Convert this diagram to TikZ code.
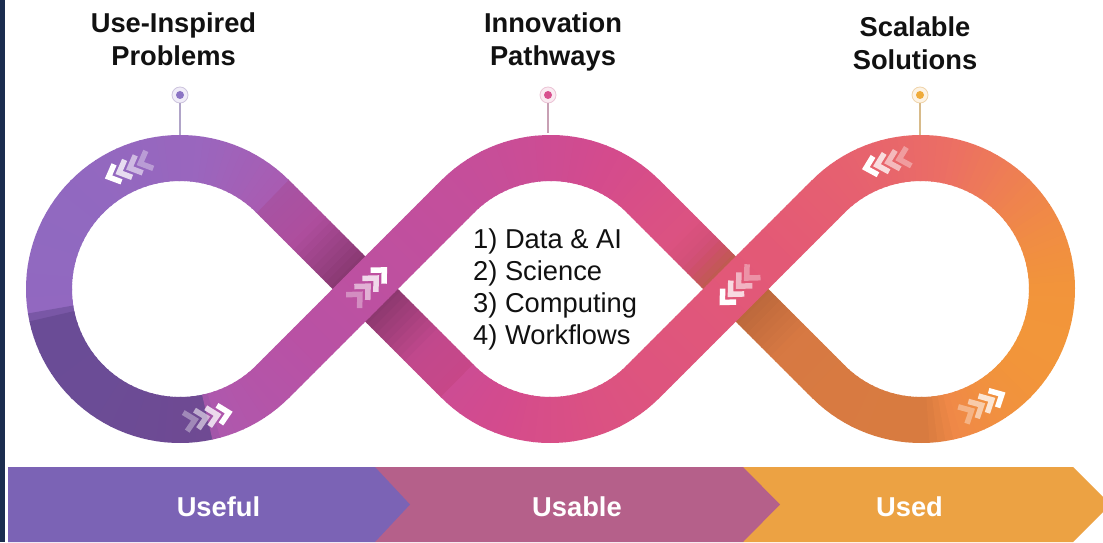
\documentclass[tikz,border=0pt]{standalone}
\usepackage{fontspec}
\setmainfont{Liberation Sans}
\usetikzlibrary{calc}

\definecolor{navyc}{HTML}{1B2D4F}
\definecolor{usefulc}{HTML}{7B63B5}
\definecolor{usablec}{HTML}{B5608A}
\definecolor{usedc}{HTML}{ECA243}
\definecolor{titlec}{HTML}{111111}
\definecolor{pinAring}{RGB}{205,196,222}
\definecolor{pinAfill}{RGB}{240,236,248}
\definecolor{pinAdot}{RGB}{139,116,196}
\definecolor{pinAline}{RGB}{176,164,200}
\definecolor{pinBring}{RGB}{236,196,214}
\definecolor{pinBfill}{RGB}{250,234,241}
\definecolor{pinBdot}{RGB}{216,80,142}
\definecolor{pinBline}{RGB}{200,160,180}
\definecolor{pinCring}{RGB}{240,212,170}
\definecolor{pinCfill}{RGB}{253,243,228}
\definecolor{pinCdot}{RGB}{239,171,58}
\definecolor{pinCline}{RGB}{216,187,138}

\pgfmathdeclarefunction{ribramp}{3}{\pgfmathparse{max(0,min(1,(#1-#2)/(#3-#2)))}}
\pgfmathdeclarefunction{ribtri}{3}{\pgfmathparse{max(0,1-abs(#1-#2)/#3)}}

% ribbon geometry: centre-line radius and band width
\def\ribRad{131}
\def\ribW{46}

% linear blend between two colour stops of the ribbon gradient
\newcommand\ribinterp[8]{%
  \pgfmathsetmacro\ribT{max(0,min(1,(\sval-(#1))/((#2)-(#1))))}%
  \pgfmathsetmacro\ribR{#3+(#6-#3)*\ribT}%
  \pgfmathsetmacro\ribG{#4+(#7-#4)*\ribT}%
  \pgfmathsetmacro\ribB{#5+(#8-#5)*\ribT}%
}
% colour of the ribbon at a point (x, y), with offset \ribS and darkening \ribD
\newcommand\setribcolor[2]{%
  \pgfmathsetmacro\sval{#1+0.4*(253-#2)+\ribS}%
  \ifdim\sval pt<150pt \ribinterp{-60}{150}{136}{108}{195}{155}{102}{190}%
  \else\ifdim\sval pt<330pt \ribinterp{150}{330}{155}{102}{190}{185}{82}{165}%
  \else\ifdim\sval pt<550pt \ribinterp{330}{550}{185}{82}{165}{212}{75}{142}%
  \else\ifdim\sval pt<760pt \ribinterp{550}{760}{212}{75}{142}{228}{90}{118}%
  \else\ifdim\sval pt<900pt \ribinterp{760}{900}{228}{90}{118}{236}{112}{100}%
  \else\ifdim\sval pt<1050pt \ribinterp{900}{1050}{236}{112}{100}{242}{148}{60}%
  \else \ribinterp{1050}{1150}{242}{148}{60}{246}{166}{45}%
  \fi\fi\fi\fi\fi\fi
  \pgfmathtruncatemacro\ribRf{\ribR*(1-\ribD)+\tgR*\ribD}%
  \pgfmathtruncatemacro\ribGf{\ribG*(1-\ribD)+\tgG*\ribD}%
  \pgfmathtruncatemacro\ribBf{\ribB*(1-\ribD)+\tgB*\ribD}%
  \definecolor{ribc}{RGB}{\ribRf,\ribGf,\ribBf}%
}
% straight piece of ribbon, cut into #5 slices
\newcommand\ribline[5]{%
  \foreach \i in {1,...,#5}{%
    \pgfmathsetmacro\ribta{(\i-1)/#5}%
    \pgfmathsetmacro\ribtb{(\i+0.2)/#5}%
    \pgfmathsetmacro\ribtm{(\i-0.5)/#5}%
    \shadefn{\ribtm}%
    \pgfmathsetmacro\ribxa{#1+(#3-#1)*\ribta}%
    \pgfmathsetmacro\ribya{#2+(#4-#2)*\ribta}%
    \pgfmathsetmacro\ribxb{#1+(#3-#1)*\ribtb}%
    \pgfmathsetmacro\ribyb{#2+(#4-#2)*\ribtb}%
    \pgfmathsetmacro\ribxm{#1+(#3-#1)*\ribtm}%
    \pgfmathsetmacro\ribym{#2+(#4-#2)*\ribtm}%
    \setribcolor{\ribxm}{\ribym}%
    \draw[line width=\ribW pt, draw=ribc] (\ribxa,\ribya) -- (\ribxb,\ribyb);
  }%
}
% circular piece of ribbon around (#1,#2) from angle #3 to #4, in #5 slices
\newcommand\ribarc[5]{%
  \pgfmathsetmacro\ribstep{(#4-#3)/#5}%
  \foreach \i in {1,...,#5}{%
    \pgfmathsetmacro\ribaa{#3+\ribstep*(\i-1)}%
    \pgfmathsetmacro\ribab{#3+\ribstep*(\i+0.2)}%
    \pgfmathsetmacro\ribam{#3+\ribstep*(\i-0.5)}%
    \shadefn{\ribam}%
    \pgfmathsetmacro\ribxa{#1+\ribRad*cos(\ribaa)}%
    \pgfmathsetmacro\ribya{#2+\ribRad*sin(\ribaa)}%
    \pgfmathsetmacro\ribxm{#1+\ribRad*cos(\ribam)}%
    \pgfmathsetmacro\ribym{#2+\ribRad*sin(\ribam)}%
    \setribcolor{\ribxm}{\ribym}%
    \draw[line width=\ribW pt, draw=ribc] (\ribxa,\ribya) arc[start angle=\ribaa, end angle=\ribab, radius=\ribRad];
  }%
}
% shading rules for the different parts of the band
\def\shadeflat#1{\def\ribD{0}\def\ribS{0}}
\def\shadeunderA#1{\pgfmathsetmacro\ribD{0.05+0.32*ribtri(#1,0.5,0.32)}\def\ribS{40}}
\def\shadeunderB#1{%
  \pgfmathsetmacro\ribS{250*ribramp(#1,0.3,0.45)-115*ribramp(#1,0.5,1)}%
  \pgfmathsetmacro\ribD{0.10*ribramp(#1,0.3,0.45)+0.16*ribtri(#1,0.5,0.3)}}
\def\shadeleft#1{\pgfmathsetmacro\ribD{0.8*ribramp(#1,188,192)*(1-ribramp(#1,281,284))}\def\ribS{0}}
\def\shaderight#1{%
  \pgfmathsetmacro\ribS{135*(1-ribramp(#1,225,285))}%
  \pgfmathsetmacro\ribD{0.10*(1-ribramp(#1,272,284))}}

% four chevrons pointing along the band
\newcommand\chevgroup[2]{%
  \begin{scope}[shift={#1}, rotate=#2]
    \foreach \k/\op in {0/0.35,1/0.55,2/0.78,3/1}{%
      \draw[chev, opacity=\op] ({\k*11.5-22.5},9.5) -- ({\k*11.5-12.5},0) -- ({\k*11.5-22.5},-9.5);
    }
  \end{scope}}

\tikzset{
  title/.style={font=\fontsize{27.3}{33}\selectfont\bfseries, text=titlec, inner sep=0pt},
  listtext/.style={font=\fontsize{27.3}{32}\selectfont, text=titlec, inner sep=0pt, anchor=base west},
  bartext/.style={font=\fontsize{27.3}{33}\selectfont\bfseries, text=white, inner sep=0pt, anchor=base},
  chev/.style={white, line width=5.5pt, line cap=butt, line join=miter},
  pinring/.style={circle, minimum size=16pt, inner sep=0pt, line width=0.8pt},
  pinline/.style={line width=1.2pt},
}

\begin{document}
\begin{tikzpicture}[x=1pt,y=1pt]
\useasboundingbox (0,0) rectangle (1103,542);
\fill[white] (0,0) rectangle (1103,542);
\fill[navyc] (0,0) rectangle (5,542);

% loop centres and crossing points
\coordinate (cL) at (180,253);
\coordinate (cM) at (550.5,253);
\coordinate (cR) at (921,253);
\coordinate (xA) at (365.25,253);
\coordinate (xB) at (735.75,253);

% band: lower strands first, then the rest
\def\tgR{0}\def\tgG{0}\def\tgB{0}
\let\shadefn\shadeunderA
\ribline{457.87}{160.37}{272.63}{345.63}{40}
\let\shadefn\shadeunderB
\ribline{643.13}{345.63}{828.37}{160.37}{40}
\def\tgR{96}\def\tgG{70}\def\tgB{140}
\let\shadefn\shadeleft
\ribarc{180}{253}{45}{315}{90}
\def\tgR{0}\def\tgG{0}\def\tgB{0}
\let\shadefn\shadeflat
\ribline{272.63}{160.37}{457.87}{345.63}{30}
\ribarc{550.5}{253}{135}{45}{30}
\let\shadefn\shaderight
\ribarc{921}{253}{225}{495}{90}
\let\shadefn\shadeflat
\ribline{828.37}{345.63}{643.13}{160.37}{30}
\ribarc{550.5}{253}{315}{225}{30}

% chevrons
\chevgroup{($(cL)+(113:131)$)}{203}
\chevgroup{($(cL)+(282:131)$)}{12}
\chevgroup{($(xA)+(45:5)$)}{45}
\chevgroup{($(xB)+(45:3)$)}{225}
\chevgroup{($(cR)+(105:131)$)}{195}
\chevgroup{($(cR)+(298:131)$)}{28}

% pins above the three loops
\coordinate (pinAend) at (180,407);
\coordinate (pinBend) at (548,409);
\coordinate (pinCend) at (920,407);
\node[pinring, draw=pinAring, fill=pinAfill] (pinA) at (180,447) {};
\node[pinring, draw=pinBring, fill=pinBfill] (pinB) at (548,447) {};
\node[pinring, draw=pinCring, fill=pinCfill] (pinC) at (920,447) {};
\fill[pinAdot] (pinA) circle (4);
\fill[pinBdot] (pinB) circle (4);
\fill[pinCdot] (pinC) circle (4);
\draw[pinline, pinAline] (pinA.south) -- (pinAend);
\draw[pinline, pinBline] (pinB.south) -- (pinBend);
\draw[pinline, pinCline] (pinC.south) -- (pinCend);

% headings
\node[title, anchor=base] (hA1) at (173.5,509) {Use-Inspired};
\node[title, anchor=base] (hA2) at (173.5,476) {Problems};
\node[title, anchor=base] (hB1) at (553,509) {Innovation};
\node[title, anchor=base] (hB2) at (553,476) {Pathways};
\node[title, anchor=base] (hC1) at (915,505) {Scalable};
\node[title, anchor=base] (hC2) at (915,472) {Solutions};

% list in the middle loop
\node[listtext] (li1) at (473,294) {1) Data \& AI};
\node[listtext] (li2) at (473,262) {2) Science};
\node[listtext] (li3) at (473,230) {3) Computing};
\node[listtext] (li4) at (473,198) {4) Workflows};

% bottom arrow bar
\fill[usedc] (743,0) -- (743,75) -- (1073,75) -- (1110.5,37.5) -- (1073,0) -- cycle;
\fill[usablec] (375,0) -- (375,75) -- (743,75) -- (780,37.5) -- (743,0) -- cycle;
\fill[usefulc] (8,0) -- (8,75) -- (375,75) -- (410,37.5) -- (375,0) -- cycle;
\node[bartext] (bUseful) at (218.5,26) {Useful};
\node[bartext] (bUsable) at (577,26) {Usable};
\node[bartext] (bUsed) at (909.5,26) {Used};
\end{tikzpicture}
\end{document}
